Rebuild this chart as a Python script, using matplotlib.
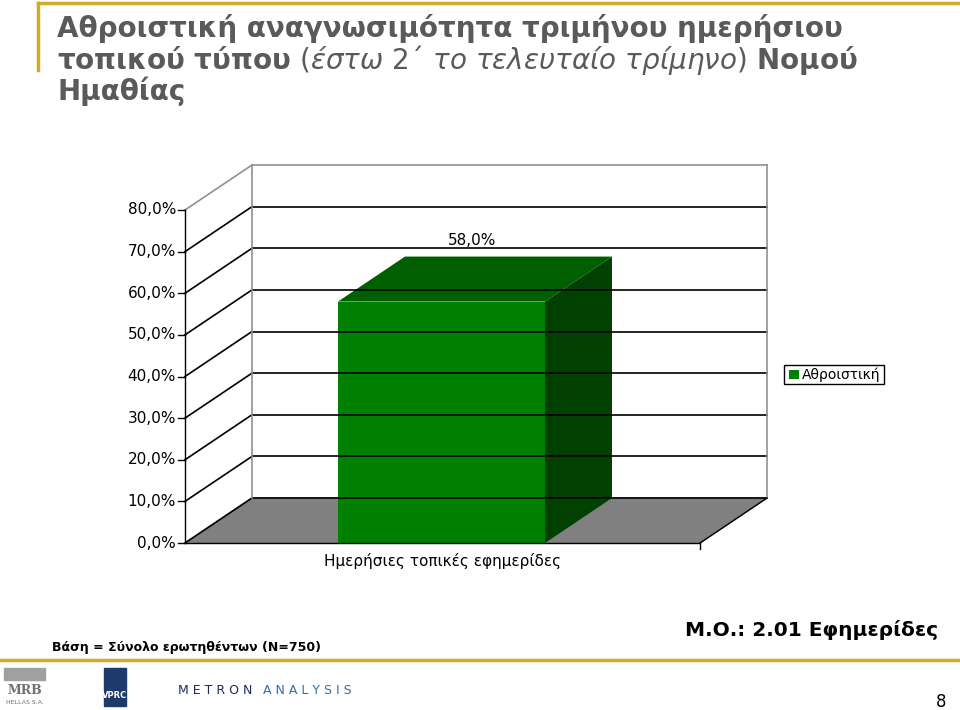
import matplotlib
matplotlib.use("Agg")
import matplotlib.pyplot as plt
from matplotlib.patches import Polygon

categories = ["Ημερήσιες τοπικές εφημερίδες"]
values = [58.0]
series_name = "Αθροιστική"
yticks = [0, 10, 20, 30, 40, 50, 60, 70, 80]
ytick_labels = ["0,0%", "10,0%", "20,0%", "30,0%", "40,0%", "50,0%", "60,0%", "70,0%", "80,0%"]

W, H = 960, 710
fig = plt.figure(figsize=(W / 100, H / 100), dpi=100)
GOLD = "#d4a829"

# frame decorations (figure fraction)
fig.add_artist(plt.Line2D([38 / W, 1], [1 - 3 / H, 1 - 3 / H], color=GOLD, lw=2.5))
fig.add_artist(plt.Line2D([38 / W, 38 / W], [1 - 3 / H, 1 - 70 / H], color=GOLD, lw=2.5))
fig.add_artist(plt.Line2D([0.0, 1], [1 - 660 / H, 1 - 660 / H], color=GOLD, lw=2.5))

fig.text(57 / W, 1 - 14 / H,
         "Αθροιστική αναγνωσιμότητα τριμήνου ημερήσιου\n"
         "τοπικού τύπου $\\it{(έστω\\ 2΄\\ το\\ τελευταίο\\ τρίμηνο)}$ Νομού\nΗμαθίας",
         fontsize=20, fontweight="bold", color="#5a5a5a", va="top", ha="left",
         linespacing=1.0)
fig.text(52 / W, 1 - 648 / H, "Βάση = Σύνολο ερωτηθέντων (N=750)", fontsize=9,
         fontweight="bold", va="center")
fig.text(938 / W, 1 - 630 / H, "Μ.Ο.: 2.01 Εφημερίδες", fontsize=14.5,
         fontweight="bold", va="center", ha="right")
fig.text(946 / W, 1 - 702 / H, "8", fontsize=12, ha="right", va="center")
fig.text(178 / W, 1 - 691 / H, "M E T R O N", fontsize=9, color="#1c2a5a", va="center")
fig.text(263 / W, 1 - 691 / H, "A N A L Y S I S", fontsize=9, color="#3070b0", va="center")
fig.add_artist(Polygon([[104 / W, 1 - 668 / H], [126 / W, 1 - 668 / H],
                        [126 / W, 1 - 706 / H], [104 / W, 1 - 706 / H]],
                       closed=True, color="#1c3a6a", transform=fig.transFigure))
fig.text(115 / W, 1 - 695 / H, "VPRC", fontsize=6, color="white", ha="center",
         va="center", fontweight="bold")
fig.add_artist(Polygon([[4 / W, 1 - 668 / H], [45 / W, 1 - 668 / H],
                        [45 / W, 1 - 680 / H], [4 / W, 1 - 680 / H]],
                       closed=True, color="#a0a0a0", transform=fig.transFigure))
fig.text(25 / W, 1 - 690 / H, "MRB", fontsize=9, color="#707070", ha="center",
         va="center", fontweight="bold", family="DejaVu Serif")
fig.text(25 / W, 1 - 702 / H, "HELLAS S.A.", fontsize=4.5, color="#707070",
         ha="center", va="center")

# chart axes: y in percent, x 0..1 across front floor
x0, x1, y0, y1 = 185, 700, 543, 210
ax = fig.add_axes([x0 / W, 1 - y0 / H, (x1 - x0) / W, (y0 - y1) / H])
ax.set_xlim(0, 1)
ax.set_ylim(0, 80)
ax.set_clip_on(False)
for s in ax.spines.values():
    s.set_visible(False)
ax.set_xticks([])
ax.set_yticks([])

dx = 67 / (x1 - x0)
dy = 45 / ((y0 - y1) / 80)

# floor
ax.add_patch(Polygon([[0, 0], [1, 0], [1 + dx, dy], [dx, dy]], closed=True,
                     facecolor="#808080", edgecolor="#808080", clip_on=False))
# back wall grid and left wall diagonals
for t in yticks:
    col = "#909090" if t == 80 else "black"
    ax.plot([dx, 1 + dx], [t + dy, t + dy], color=col, lw=1.2, clip_on=False)
    ax.plot([0, dx], [t, t + dy], color=col, lw=1.2, clip_on=False)
ax.plot([dx, dx], [dy, 80 + dy], color="#909090", lw=1.2, clip_on=False)
ax.plot([1 + dx, 1 + dx], [dy, 80 + dy], color="#909090", lw=1.2, clip_on=False)
ax.plot([1, 1 + dx], [0, dy], color="black", lw=1, clip_on=False)

# axes lines and ticks
ax.plot([0, 0], [0, 80], color="black", lw=1, clip_on=False)
ax.plot([0, 1], [0, 0], color="black", lw=1, clip_on=False)
ax.plot([1, 1], [0, -1.5], color="black", lw=1, clip_on=False)
tick_len = 7 / (x1 - x0)
for t, lab in zip(yticks, ytick_labels):
    ax.plot([-tick_len, 0], [t, t], color="black", lw=1, clip_on=False)
    ax.text(-tick_len - 0.004, t, lab, ha="right", va="center", fontsize=11)

# bar
bl, br = 0.297, 0.699
for cat, v in zip(categories, values):
    ax.add_patch(Polygon([[bl, 0], [br, 0], [br, v], [bl, v]], closed=True,
                         facecolor="#008000", edgecolor="none", clip_on=False))
    ax.add_patch(Polygon([[bl, v], [br, v], [br + dx, v + dy], [bl + dx, v + dy]],
                         closed=True, facecolor="#006000", edgecolor="none", clip_on=False))
    ax.add_patch(Polygon([[br, 0], [br + dx, dy], [br + dx, v + dy], [br, v]],
                         closed=True, facecolor="#004000", edgecolor="none", clip_on=False))
    ax.text((bl + br) / 2 + 0.06, v + dy + 2.0, ("%.1f%%" % v).replace(".", ","),
            ha="center", va="bottom", fontsize=11)
    ax.text(0.5, -2.5, cat, ha="center", va="top", fontsize=11)

# legend
lx, ly, lw_ = 1 + 0.163, 40.5, 0.195
ax.add_patch(Polygon([[lx, ly + 2.3], [lx + lw_, ly + 2.3], [lx + lw_, ly - 2.3],
                      [lx, ly - 2.3]], closed=True, facecolor="white",
                     edgecolor="black", lw=1, clip_on=False))
ax.add_patch(Polygon([[lx + 0.010, ly + 1.1], [lx + 0.030, ly + 1.1],
                      [lx + 0.030, ly - 1.1], [lx + 0.010, ly - 1.1]], closed=True,
                     facecolor="#008000", edgecolor="none", clip_on=False))
ax.text(lx + 0.034, ly, series_name, ha="left", va="center", fontsize=10)

fig.savefig("out.png", dpi=100)
